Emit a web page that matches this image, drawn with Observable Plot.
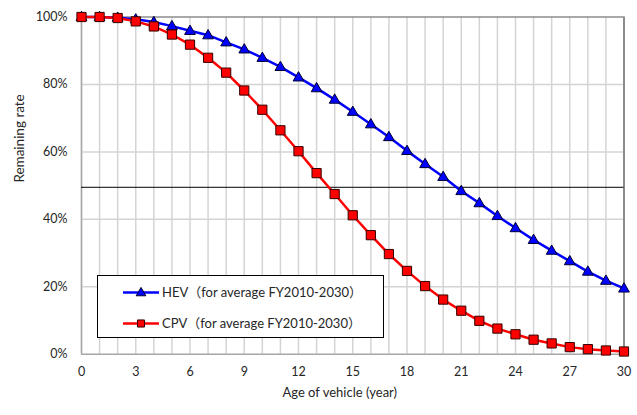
<!DOCTYPE html>
<html><head><meta charset="utf-8">
<script src="https://cdn.jsdelivr.net/npm/d3@7"></script>
<script src="https://cdn.jsdelivr.net/npm/@observablehq/plot@0.6"></script>
<style>
body{margin:0;background:#fff;}
#chart{position:relative;width:637px;height:415px;font-family:Lato,"Noto Sans",sans-serif;}
#legend{position:absolute;left:97px;top:275px;width:287px;height:63px;border:1px solid #000;background:#fff;box-sizing:border-box;}
#legend svg{position:absolute;left:0;top:0;}
</style>
</head><body><div id="chart"></div>
<script>
const years = [0,1,2,3,4,5,6,7,8,9,10,11,12,13,14,15,16,17,18,19,20,21,22,23,24,25,26,27,28,29,30];
const hevValues = [100,100,99.8,99.3,98.5,97.3,95.9,94.6,92.5,90.4,87.9,85.2,82.1,78.9,75.5,71.9,68.2,64.4,60.3,56.4,52.6,48.4,44.8,41.0,37.4,33.9,30.7,27.6,24.5,21.8,19.5];
const cpvValues = [100,100,99.7,98.7,97.2,94.8,91.8,87.9,83.5,78.2,72.5,66.4,60.2,53.7,47.5,41.2,35.3,29.7,24.7,20.2,16.2,12.9,9.9,7.6,5.9,4.3,3.2,2.1,1.5,1.1,0.8];
const xTicks = [0,3,6,9,12,15,18,21,24,27,30];
const yTicks = [0,0.2,0.4,0.6,0.8,1.0];
const referenceLevel = 0.495;
const seriesNames = ["HEV（for average FY2010-2030）","CPV（for average FY2010-2030）"];
const xLabel = "Age of vehicle (year)";
const yLabel = "Remaining rate";

const hev = years.map((y,i)=>({year:y, rate:hevValues[i]/100}));
const cpv = years.map((y,i)=>({year:y, rate:cpvValues[i]/100}));
const txt = "#262626";

const plot = Plot.plot({
  width: 637, height: 415,
  marginLeft: 81, marginRight: 13.5, marginTop: 16.5, marginBottom: 61.3,
  style: {fontFamily: 'Lato,"Noto Sans",sans-serif', fontSize: "12px", color: txt, background: "#fff"},
  x: {domain: [0,30], ticks: xTicks, tickSize: 0, tickPadding: 13, label: null},
  y: {domain: [0,1], ticks: yTicks, tickFormat: d3.format(".0%"), tickSize: 0, tickPadding: 14, label: null},
  marks: [
    Plot.gridX(years, {stroke: "#d4d4d4", strokeOpacity: 1, strokeWidth: 1.5}),
    Plot.gridY([0.2,0.4,0.6,0.8], {stroke: "#d4d4d4", strokeOpacity: 1, strokeWidth: 1.5}),
    Plot.ruleY([1], {stroke: "#8c8c8c", strokeWidth: 1.5}),
    Plot.ruleX([30], {stroke: "#8c8c8c", strokeWidth: 2}),
    Plot.ruleX([0], {stroke: "#a6a6a6", strokeWidth: 1.5}),
    Plot.ruleY([0], {stroke: "#a6a6a6", strokeWidth: 1.5}),
    Plot.ruleY([referenceLevel], {stroke: "#000", strokeWidth: 1}),
    Plot.axisX({ticks: xTicks, tickSize: 0, tickPadding: 13, label: null, fill: txt, fontSize: 12.5}),
    Plot.axisY({ticks: yTicks, tickFormat: d3.format(".0%"), tickSize: 0, tickPadding: 14, label: null, fill: txt, fontSize: 12.5}),
    Plot.line(hev, {x: "year", y: "rate", stroke: "#0000ff", strokeWidth: 2.5}),
    Plot.dot(hev, {x: "year", y: "rate", symbol: "triangle", r: 4, fill: "#0000ff", stroke: "#000033", strokeWidth: 1, dy: 0.5}),
    Plot.line(cpv, {x: "year", y: "rate", stroke: "#ff0000", strokeWidth: 2.5}),
    Plot.dot(cpv, {x: "year", y: "rate", symbol: "square", r: 5.2, fill: "#ff0000", stroke: "#330000", strokeWidth: 1}),
    Plot.text([xLabel], {frameAnchor: "bottom", dx: -13, dy: 43, text: d => d, fill: txt, fontSize: 13}),
    Plot.text([yLabel], {frameAnchor: "left", rotate: -90, dx: -62, dy: -3, text: d => d, fill: txt, fontSize: 13.5})
  ]
});
const chart = document.getElementById("chart");
chart.appendChild(plot);

// Legend
const legend = document.createElement("div");
legend.id = "legend";
const rows = [
  {name: seriesNames[0], color: "#0000ff", stroke: "#000033", sym: d3.symbolTriangle, size: 40},
  {name: seriesNames[1], color: "#ff0000", stroke: "#330000", sym: d3.symbolSquare, size: 50}
];
const svg = d3.create("svg").attr("width", 285).attr("height", 61);
rows.forEach((r, i) => {
  const cy = 16.5 + i * 31;
  svg.append("line").attr("x1", 25).attr("x2", 61).attr("y1", cy).attr("y2", cy)
    .attr("stroke", r.color).attr("stroke-width", 2.5);
  svg.append("path").attr("d", d3.symbol(r.sym, r.size)()).attr("transform", `translate(43,${cy + (i===0?0.5:0)})`)
    .attr("fill", r.color).attr("stroke", r.stroke).attr("stroke-width", 1);
  svg.append("text").attr("x", 64).attr("y", cy).attr("dy", "0.35em")
    .attr("font-size", 13).attr("fill", txt).attr("font-family", 'Lato,"Noto Sans CJK JP",sans-serif').text(r.name);
});
legend.appendChild(svg.node());
chart.appendChild(legend);
</script>
</body></html>
